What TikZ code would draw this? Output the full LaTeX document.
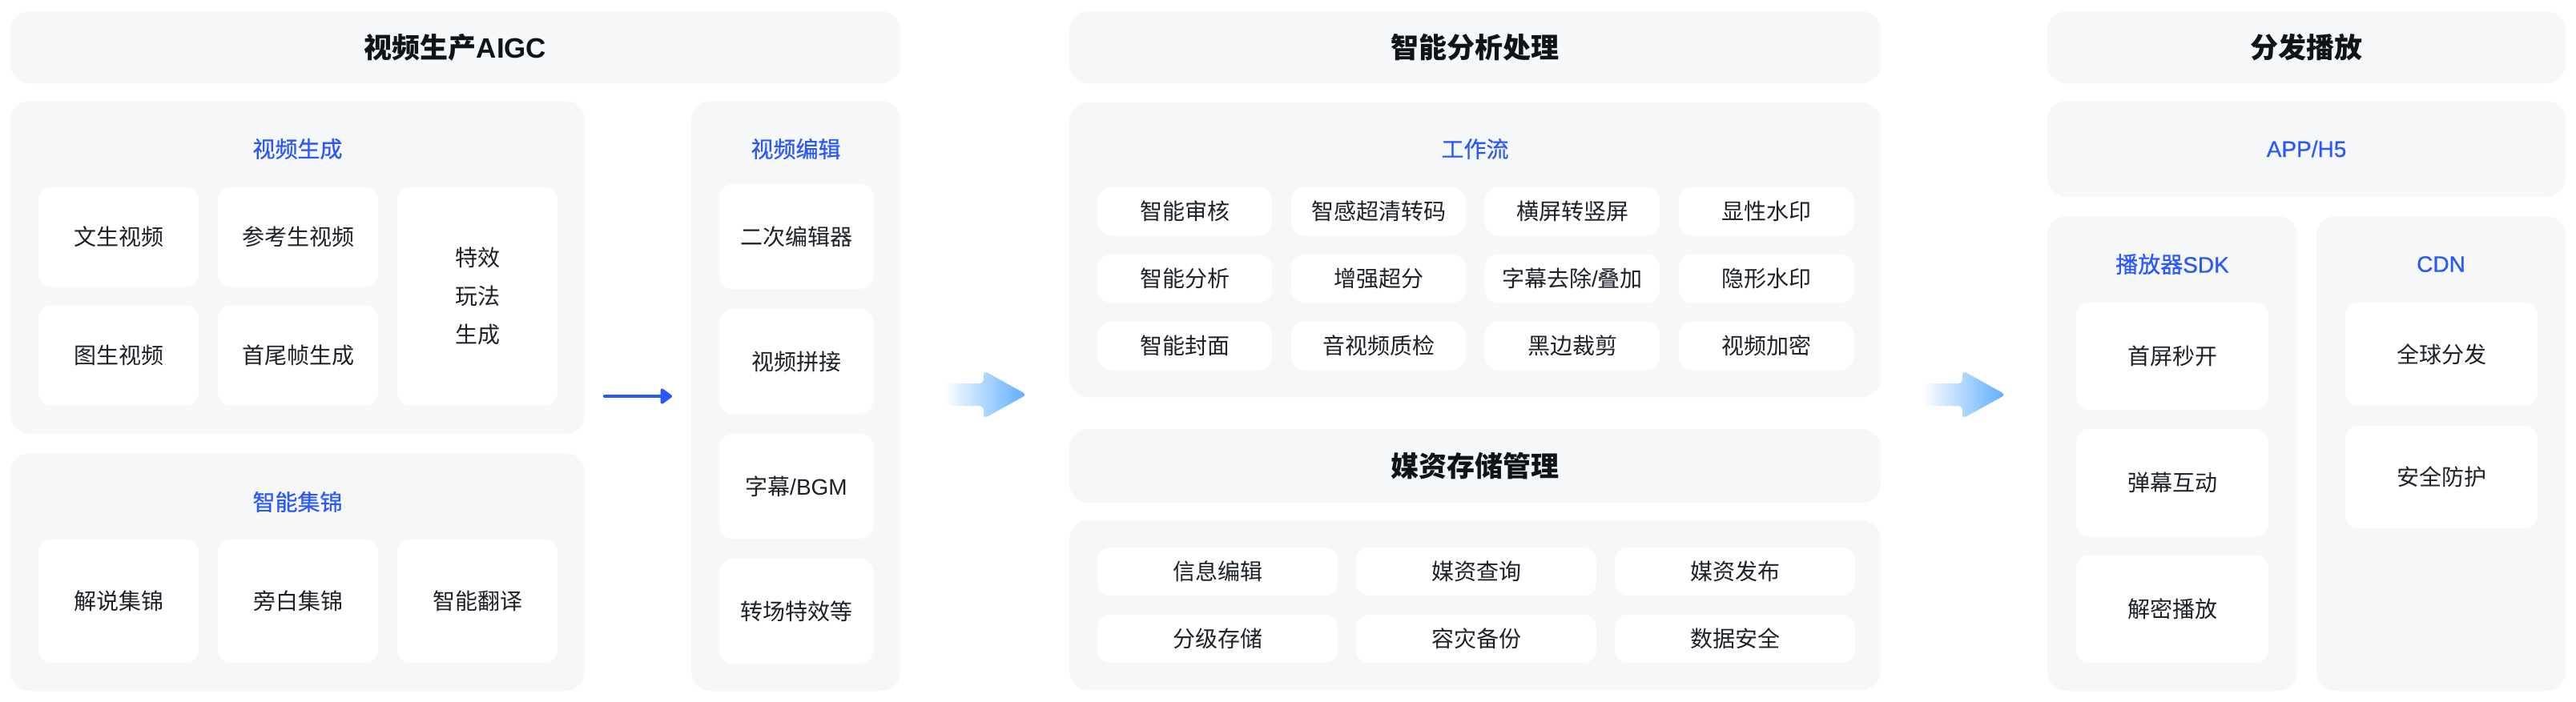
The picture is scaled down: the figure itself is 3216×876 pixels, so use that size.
\documentclass[tikz,border=0pt]{standalone}
\usepackage{fontspec}
\setmainfont{Noto Sans CJK SC}
\newfontfamily\ttlfont[FakeBold=0.6]{Noto Sans CJK SC}
\newfontfamily\lat{Liberation Sans}
\newfontfamily\ttllat[FakeBold=0.6]{Liberation Sans}
\usetikzlibrary{arrows.meta}
\definecolor{panelgray}{RGB}{246,247,249}
\definecolor{ttlblue}{RGB}{41,88,255}
\definecolor{txt}{RGB}{29,33,41}
\definecolor{hdrtxt}{RGB}{15,20,25}
\definecolor{arrblue}{RGB}{92,172,255}
\newcommand\boxat[7]{%
  \pgfmathsetmacro\bxw{#5-#3}\pgfmathsetmacro\bxh{#6-#4}%
  \pgfmathsetmacro\bxcx{(#3+#5)/2}\pgfmathsetmacro\bxcy{(#4+#6)/2}%
  \node[#1, minimum width=\bxw pt, minimum height=\bxh pt] (#2) at (\bxcx,\bxcy) {#7};}
\newcommand\gradarrow[4]{% x0, xbase, xtip, y
  \shade[left color=white, right color=arrblue, rounded corners=5pt]
    (#1,#4-14) -- (#2,#4-14) -- (#2,#4-30) -- (#3,#4) -- (#2,#4+30) -- (#2,#4+14) -- (#1,#4+14) -- cycle;}
\tikzset{
  panel/.style={fill=panelgray, rounded corners=24pt, inner sep=0pt, outer sep=0pt, draw=none},
  hdr/.style={panel, font=\fontsize{35}{40}\selectfont\bfseries, text=hdrtxt},
  card/.style={fill=white, rounded corners=16pt, inner sep=0pt, outer sep=0pt, font=\fontsize{28}{34}\selectfont, text=txt},
  ttl/.style={font=\fontsize{28}{34}\selectfont\ttlfont, text=ttlblue, inner sep=0pt},
  flow/.style={draw=ttlblue, line width=4.5pt, line cap=round, -{Triangle[length=16pt,width=22pt,round]}},
}
\begin{document}
\begin{tikzpicture}[x=1pt,y=-1pt]
\useasboundingbox (0,0) rectangle (3216,876);
\fill[white] (0,0) rectangle (3216,876);
% ---------- column 1 ----------
\boxat{hdr}{h1}{13}{14}{1124}{104}{视频生产{\lat\bfseries AIGC}}
\boxat{panel}{pgen}{13}{126}{730}{542}{}
\node[ttl] (tgen) at (371.5,186) {视频生成};
\boxat{card}{g1}{48}{234}{248}{358}{文生视频}
\boxat{card}{g2}{272}{234}{472}{358}{参考生视频}
\boxat{card, align=center, font=\fontsize{28}{48}\selectfont}{g3}{496}{234}{696}{506}{特效\\玩法\\生成}
\boxat{card}{g4}{48}{382}{248}{506}{图生视频}
\boxat{card}{g5}{272}{382}{472}{506}{首尾帧生成}
\boxat{panel}{phl}{13}{566}{730}{863}{}
\node[ttl] (thl) at (371.5,627) {智能集锦};
\boxat{card}{j1}{48}{674}{248}{828}{解说集锦}
\boxat{card}{j2}{272}{674}{472}{828}{旁白集锦}
\boxat{card}{j3}{496}{674}{696}{828}{智能翻译}
\boxat{panel}{pedit}{863}{126}{1124}{863}{}
\node[ttl] (tedit) at (993.5,186) {视频编辑};
\boxat{card}{e1}{898}{230}{1090}{361}{二次编辑器}
\boxat{card}{e2}{898}{386}{1090}{517}{视频拼接}
\boxat{card}{e3}{898}{542}{1090}{673}{字幕{\lat /BGM}}
\boxat{card}{e4}{898}{698}{1090}{829}{转场特效等}
\coordinate (a1s) at (755,495);
\coordinate (a1e) at (839,495);
\draw[flow] (a1s) -- (a1e);
% ---------- arrows between columns ----------
\gradarrow{1178}{1228}{1282}{493}
\gradarrow{2400}{2450}{2504}{493}
% ---------- column 2 ----------
\boxat{hdr}{h2}{1335}{14}{2348}{104}{智能分析处理}
\boxat{panel}{pwf}{1335}{128}{2348}{496}{}
\node[ttl] (twf) at (1841.5,186) {工作流};
\boxat{card}{w11}{1370}{234}{1588}{294}{智能审核}
\boxat{card}{w12}{1612}{234}{1830}{294}{智感超清转码}
\boxat{card}{w13}{1854}{234}{2072}{294}{横屏转竖屏}
\boxat{card}{w14}{2096}{234}{2314}{294}{显性水印}
\boxat{card}{w21}{1370}{318}{1588}{378}{智能分析}
\boxat{card}{w22}{1612}{318}{1830}{378}{增强超分}
\boxat{card}{w23}{1854}{318}{2072}{378}{字幕去除{\lat /}叠加}
\boxat{card}{w24}{2096}{318}{2314}{378}{隐形水印}
\boxat{card}{w31}{1370}{402}{1588}{462}{智能封面}
\boxat{card}{w32}{1612}{402}{1830}{462}{音视频质检}
\boxat{card}{w33}{1854}{402}{2072}{462}{黑边裁剪}
\boxat{card}{w34}{2096}{402}{2314}{462}{视频加密}
\boxat{hdr}{h4}{1335}{536}{2348}{628}{媒资存储管理}
\boxat{panel}{pst}{1335}{650}{2348}{862}{}
\boxat{card}{s11}{1370}{684}{1670}{744}{信息编辑}
\boxat{card}{s12}{1693}{684}{1993}{744}{媒资查询}
\boxat{card}{s13}{2016}{684}{2316}{744}{媒资发布}
\boxat{card}{s21}{1370}{768}{1670}{828}{分级存储}
\boxat{card}{s22}{1693}{768}{1993}{828}{容灾备份}
\boxat{card}{s23}{2016}{768}{2316}{828}{数据安全}
% ---------- column 3 ----------
\boxat{hdr}{h3}{2556}{14}{3203}{104}{分发播放}
\boxat{panel, font=\fontsize{28}{34}\selectfont\ttllat, text=ttlblue}{papp}{2556}{126}{3203}{246}{APP/H5}
\boxat{panel}{psdk}{2556}{270}{2868}{863}{}
\node[ttl] (tsdk) at (2712,330) {播放器{\ttllat SDK}};
\boxat{card}{k1}{2592}{378}{2832}{512}{首屏秒开}
\boxat{card}{k2}{2592}{536}{2832}{670}{弹幕互动}
\boxat{card}{k3}{2592}{694}{2832}{828}{解密播放}
\boxat{panel}{pcdn}{2892}{270}{3203}{863}{}
\node[ttl, font=\fontsize{28}{34}\selectfont\ttllat] (tcdn) at (3047.5,330) {CDN};
\boxat{card}{c1}{2928}{378}{3168}{507}{全球分发}
\boxat{card}{c2}{2928}{532}{3168}{660}{安全防护}
\end{tikzpicture}
\end{document}
